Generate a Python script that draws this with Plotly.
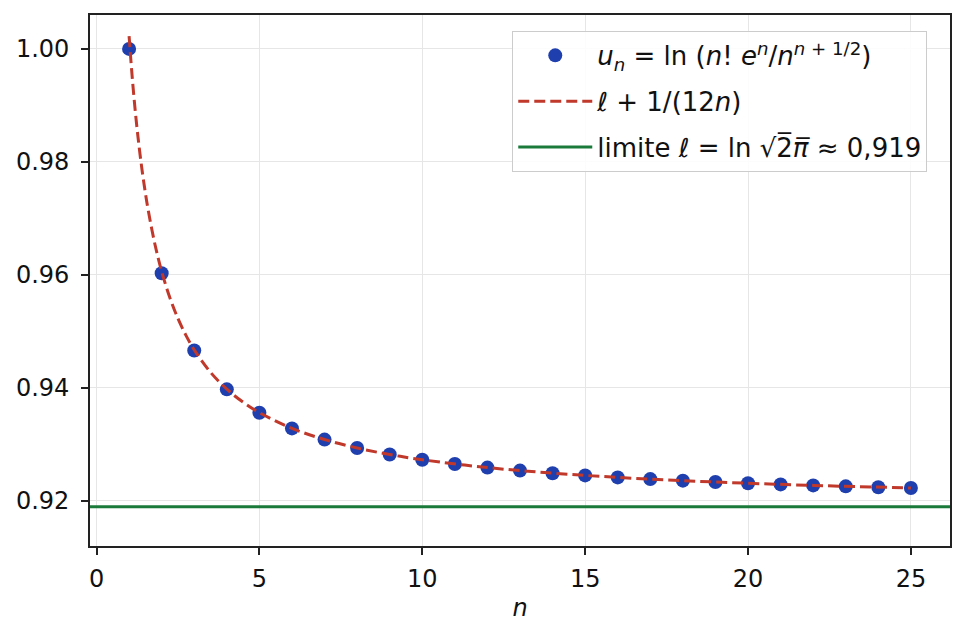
import plotly.graph_objects as go

# --- data -------------------------------------------------------------
n_values = list(range(1, 26))
u_values = [1.000000, 0.960279, 0.946614, 0.939729, 0.935584, 0.932815,
            0.930836, 0.929350, 0.928194, 0.927270, 0.926513, 0.925881,
            0.925348, 0.924890, 0.924494, 0.924147, 0.923841, 0.923568,
            0.923325, 0.923106, 0.922907, 0.922727, 0.922562, 0.922411,
            0.922272]

curve_n = [1, 1.1, 1.2, 1.3, 1.4, 1.5, 1.6, 1.8, 2, 2.25, 2.5, 2.75, 3,
           3.5, 4, 4.5, 5, 6, 7, 8, 9, 10, 12, 14, 16, 18, 20, 22, 25]
curve_y = [1.002273, 0.994697, 0.988384, 0.983042, 0.978463, 0.974495,
           0.971022, 0.965236, 0.960606, 0.955976, 0.952273, 0.949242,
           0.946717, 0.942749, 0.939772, 0.937458, 0.935606, 0.932828,
           0.930844, 0.929356, 0.928198, 0.927273, 0.925884, 0.924891,
           0.924147, 0.923569, 0.923106, 0.922727, 0.922273]

limit_value = 0.918939

x_range = [-0.2, 26.2]
y_range = [0.912, 1.006]
x_ticks = [0, 5, 10, 15, 20, 25]
y_ticks = [0.92, 0.94, 0.96, 0.98, 1.00]

# --- styles -----------------------------------------------------------
FONT = "DejaVu Sans"
FS = 24
LFS = 26
BLUE = "#1f3fae"
RED = "#c0392b"
GREEN = "#1a7a3a"

fig = go.Figure()

fig.add_trace(go.Scatter(
    x=n_values, y=u_values, mode="markers",
    marker=dict(size=14, color=BLUE),
    name="<i>u</i><sub><i>n</i></sub> = ln (<i>n</i>! <i>e</i><sup><i>n</i></sup>/<i>n</i><sup><i>n</i> + 1/2</sup>)",
    legendrank=1, legendgroup="a",
))
fig.add_trace(go.Scatter(
    x=curve_n, y=curve_y, mode="lines",
    line=dict(color=RED, width=3, dash="11px,5px", shape="spline"),
    name="<i>ℓ</i> + 1/(12<i>n</i>)",
    legendrank=2, legendgroup="b",
))
fig.add_trace(go.Scatter(
    x=x_range, y=[limit_value, limit_value], mode="lines",
    line=dict(color=GREEN, width=3),
    name="limite <i>ℓ</i> = ln √2̅<i>π̅</i> ≈ 0,919",
    legendrank=3, legendgroup="c",
))

axis_common = dict(
    showline=True, linecolor="#222222", linewidth=1.6, mirror=True,
    ticks="outside", ticklen=7, tickwidth=1.6, tickcolor="#222222",
    showgrid=True, gridcolor="#e6e6e6", gridwidth=1.2,
    zeroline=False, automargin=False,
    tickfont=dict(family=FONT, size=FS, color="#111111"),
)

fig.update_xaxes(range=x_range, tickvals=x_ticks, **axis_common,
                 ticklabelstandoff=3,
                 title=dict(text="<i>n</i>", font=dict(family=FONT, size=FS, color="#111111"),
                            standoff=8))
fig.update_yaxes(range=y_range, tickvals=y_ticks, tickformat=".2f",
                 ticklabelstandoff=7, **axis_common)

fig.update_layout(
    width=964, height=638,
    margin=dict(l=90, r=14, t=15, b=92),
    paper_bgcolor="white", plot_bgcolor="white",
    font=dict(family=FONT, size=FS, color="#111111"),
    showlegend=True,
    legend=dict(
        x=0.491, y=0.970, xanchor="left", yanchor="top",
        bgcolor="rgba(255,255,255,0.85)", bordercolor="#cccccc", borderwidth=1,
        font=dict(family=FONT, size=LFS, color="#111111"),
        tracegroupgap=9, itemwidth=74,
    ),
)

fig.write_html("out.html", config={"displayModeBar": False},
               post_script="document.body.style.margin='0';")
